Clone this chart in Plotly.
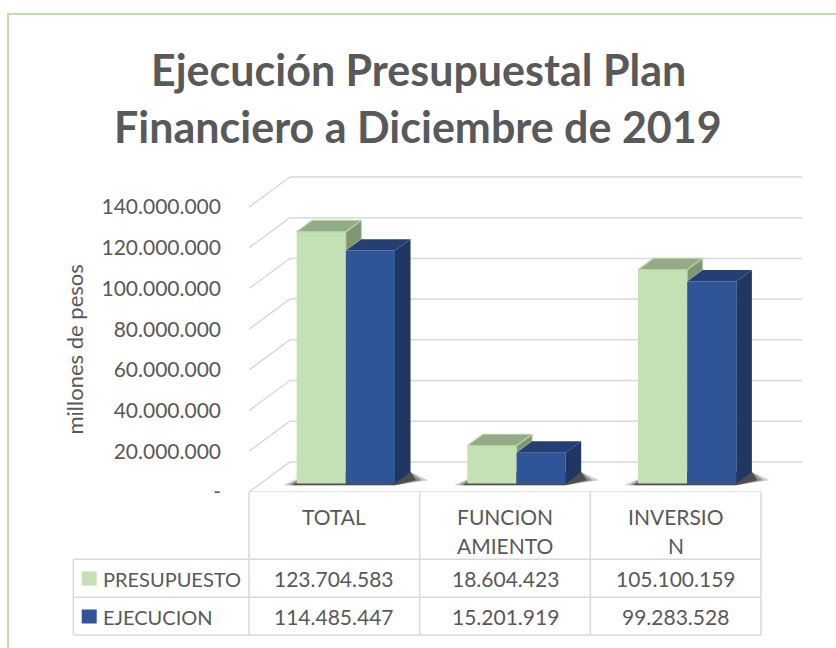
import plotly.graph_objects as go

# ---- data ---------------------------------------------------------------
categories = ["TOTAL", "FUNCIONAMIENTO", "INVERSION"]
category_lines = [["TOTAL"], ["FUNCION", "AMIENTO"], ["INVERSIO", "N"]]
series_names = ["PRESUPUESTO", "EJECUCION"]
presupuesto = [123704583, 18604423, 105100159]
ejecucion = [114485447, 15201919, 99283528]
y_ticks = [0, 20000000, 40000000, 60000000, 80000000, 100000000, 120000000, 140000000]
title_lines = ["Ejecución Presupuestal Plan", "Financiero a Diciembre de 2019"]
y_title = "millones de pesos"

# ---- styling ------------------------------------------------------------
FONT = "Lato"
TEXT = "#595959"
GRID = "#D9D9D9"
FRONT = ["#C5E0B4", "#2E5597"]
TOP = ["#94AB87", "#243F74"]
SIDE = ["#7F9670", "#1F3762"]
EDGE = ["#B9D6A6", None]

W, H = 836, 648
PLOT_L, PLOT_R, PLOT_T, PLOT_B = 249, 812, 165, 492
PX_PER_CAT = 170.68
PX_PER_UNIT = 2.035e-6

X_MIN = -0.5
X_MAX = X_MIN + (PLOT_R - PLOT_L) / PX_PER_CAT
Y_MAX = (PLOT_B - PLOT_T) / PX_PER_UNIT

# oblique projection of the depth axis (in axis units)
DEPTH_X = 0.24
DEPTH_Y = 14.8e6
F_FRONT, F_BACK = 0.28, 0.66      # depth of the bars' front and back faces
BAR_W = 0.288


def paper_y(py):
    return (PLOT_B - py) / (PLOT_B - PLOT_T)


def paper_x(px):
    return (px - PLOT_L) / (PLOT_R - PLOT_L)


def paper_of_x(x):
    return (x - X_MIN) / (X_MAX - X_MIN)


def fmt(v):
    return "-" if v == 0 else f"{v:,}".replace(",", ".")


fig = go.Figure()
shapes = []
annotations = []

# ---- walls: back gridlines, side diagonals, front floor edge ------------
for v in y_ticks:
    shapes.append(dict(type="line", xref="x", yref="y", layer="below",
                       x0=X_MIN + DEPTH_X, y0=v + DEPTH_Y, x1=2.5 + DEPTH_X, y1=v + DEPTH_Y,
                       line=dict(color=GRID, width=1.5)))
    shapes.append(dict(type="line", xref="x", yref="y", layer="below",
                       x0=X_MIN, y0=v, x1=X_MIN + DEPTH_X, y1=v + DEPTH_Y,
                       line=dict(color=GRID, width=1.5)))
shapes.append(dict(type="line", xref="x", yref="y", layer="below",
                   x0=X_MIN, y0=0, x1=2.5, y1=0, line=dict(color=GRID, width=1.5)))

series = [presupuesto, ejecucion]
ddx = (F_BACK - F_FRONT) * DEPTH_X
ddy = (F_BACK - F_FRONT) * DEPTH_Y
base = F_FRONT * DEPTH_Y

# ---- floor shadows under each bar pair ---------------------------------
for i in range(len(categories)):
    c = i + F_FRONT * DEPTH_X
    xl, xr = c - BAR_W, c + BAR_W
    for grow, alpha in [(0.08, 0.2), (0.05, 0.3), (0.025, 0.45)]:
        path = (f"M {xl - grow},{base - 0.8e6} L {xr},{base - 0.8e6} "
                f"L {xr + ddx + grow * 1.3},{base + ddy * 0.3} L {xr + ddx},{base + ddy} "
                f"L {xl + ddx},{base + ddy} Z")
        shapes.append(dict(type="path", xref="x", yref="y", layer="below", path=path,
                           fillcolor=f"rgba(0,0,0,{alpha})", line=dict(width=0)))

# ---- front faces of the bars -------------------------------------------
for s, vals in enumerate(series):
    fig.add_trace(go.Bar(
        x=[i + F_FRONT * DEPTH_X for i in range(len(categories))],
        y=vals, base=base, width=BAR_W, offset=(s - 1) * BAR_W,
        marker=dict(color=FRONT[s], line=dict(width=0)),
        name=series_names[s], showlegend=False, hoverinfo="skip"))

# ---- top and side faces -------------------------------------------------
for i in range(len(categories)):
    for s, vals in enumerate(series):
        xl = i + F_FRONT * DEPTH_X + (s - 1) * BAR_W
        xr = xl + BAR_W
        yt = base + vals[i]
        y_low = base
        if s + 1 < len(series):
            y_low = max(base, base + series[s + 1][i])
        if yt > y_low:
            fig.add_trace(go.Scatter(
                x=[xr, xr, xr + ddx, xr + ddx, xr], y=[y_low, yt, yt + ddy, y_low + ddy, y_low],
                fill="toself", fillcolor=SIDE[s], mode="lines",
                line=dict(color=EDGE[s] or SIDE[s], width=1 if EDGE[s] else 0),
                showlegend=False, hoverinfo="skip"))
        fig.add_trace(go.Scatter(
            x=[xl, xr, xr + ddx, xl + ddx, xl], y=[yt, yt, yt + ddy, yt + ddy, yt],
            fill="toself", fillcolor=TOP[s], mode="lines",
            line=dict(color=EDGE[s] or TOP[s], width=1.2 if EDGE[s] else 0),
            showlegend=False, hoverinfo="skip"))

# ---- data table (legend keys + values) ---------------------------------
ROW_TOP, ROW_1, ROW_2, ROW_BOT = 492, 559.3, 597.3, 635
LEG_L = 73.3
col_edges = [paper_of_x(X_MIN + k) for k in range(len(categories) + 1)]
tline = dict(color=GRID, width=1.5)
for yy in [ROW_1, ROW_2, ROW_BOT]:
    shapes.append(dict(type="line", xref="paper", yref="paper", x0=paper_x(LEG_L), x1=col_edges[-1],
                       y0=paper_y(yy), y1=paper_y(yy), line=tline))
for xe in col_edges:
    shapes.append(dict(type="line", xref="paper", yref="paper", x0=xe, x1=xe,
                       y0=paper_y(ROW_TOP), y1=paper_y(ROW_BOT), line=tline))
shapes.append(dict(type="line", xref="paper", yref="paper", x0=paper_x(LEG_L), x1=paper_x(LEG_L),
                   y0=paper_y(ROW_1), y1=paper_y(ROW_BOT), line=tline))

tfont = dict(family=FONT, size=21, color=TEXT)
lfont = dict(family=FONT, size=20, color=TEXT)
for i, lines in enumerate(category_lines):
    for k, ln in enumerate(lines):
        annotations.append(dict(x=paper_of_x(i), y=paper_y(516.7 + 28.3 * k), xref="paper", yref="paper",
                                text=ln, showarrow=False, font=tfont,
                                xanchor="center", yanchor="middle"))

row_centers = [578.5, 616.5]
for s, vals in enumerate(series):
    yc = row_centers[s]
    shapes.append(dict(type="rect", xref="paper", yref="paper",
                       x0=paper_x(81.7), x1=paper_x(96.7),
                       y0=paper_y(yc + 7), y1=paper_y(yc - 7),
                       fillcolor=FRONT[s], line=dict(width=0)))
    annotations.append(dict(x=paper_x(100.5), y=paper_y(yc), xref="paper", yref="paper",
                            text=series_names[s], showarrow=False, font=lfont,
                            xanchor="left", yanchor="middle"))
    for i, v in enumerate(vals):
        annotations.append(dict(x=paper_of_x(i), y=paper_y(yc), xref="paper", yref="paper",
                                text=fmt(v), showarrow=False, font=tfont,
                                xanchor="center", yanchor="middle"))

# ---- titles -------------------------------------------------------------
for k, (ln, yc) in enumerate(zip(title_lines, [70, 127])):
    annotations.append(dict(x=paper_x(418), y=paper_y(yc), xref="paper", yref="paper",
                            text=f"<b>{ln}</b>", showarrow=False,
                            font=dict(family=FONT, size=43, color=TEXT),
                            xanchor="center", yanchor="middle"))

annotations.append(dict(x=paper_x(75), y=70e6, xref="paper", yref="y", text=y_title,
                        textangle=-90, showarrow=False,
                        font=dict(family=FONT, size=22, color=TEXT),
                        xanchor="center", yanchor="middle"))

# ---- chart border -------------------------------------------------------
shapes.append(dict(type="rect", xref="paper", yref="paper",
                   x0=paper_x(8), x1=paper_x(W + 20), y0=paper_y(H + 20), y1=paper_y(14),
                   line=dict(color="#C0DDAB", width=2), fillcolor="rgba(0,0,0,0)"))

fig.update_layout(
    width=W, height=H,
    margin=dict(l=PLOT_L, r=W - PLOT_R, t=PLOT_T, b=H - PLOT_B, pad=0),
    paper_bgcolor="white", plot_bgcolor="white",
    barmode="overlay", showlegend=False,
    shapes=shapes, annotations=annotations,
    xaxis=dict(range=[X_MIN, X_MAX], showgrid=False, zeroline=False, showline=False,
               showticklabels=False, ticks="", fixedrange=True),
    yaxis=dict(range=[0, Y_MAX], showgrid=False, zeroline=False, showline=False,
               tickvals=y_ticks, ticktext=[fmt(v) for v in y_ticks], ticks="",
               ticklabelstandoff=27, tickfont=tfont, fixedrange=True),
)

fig.write_html("out.html", config={"displayModeBar": False})
